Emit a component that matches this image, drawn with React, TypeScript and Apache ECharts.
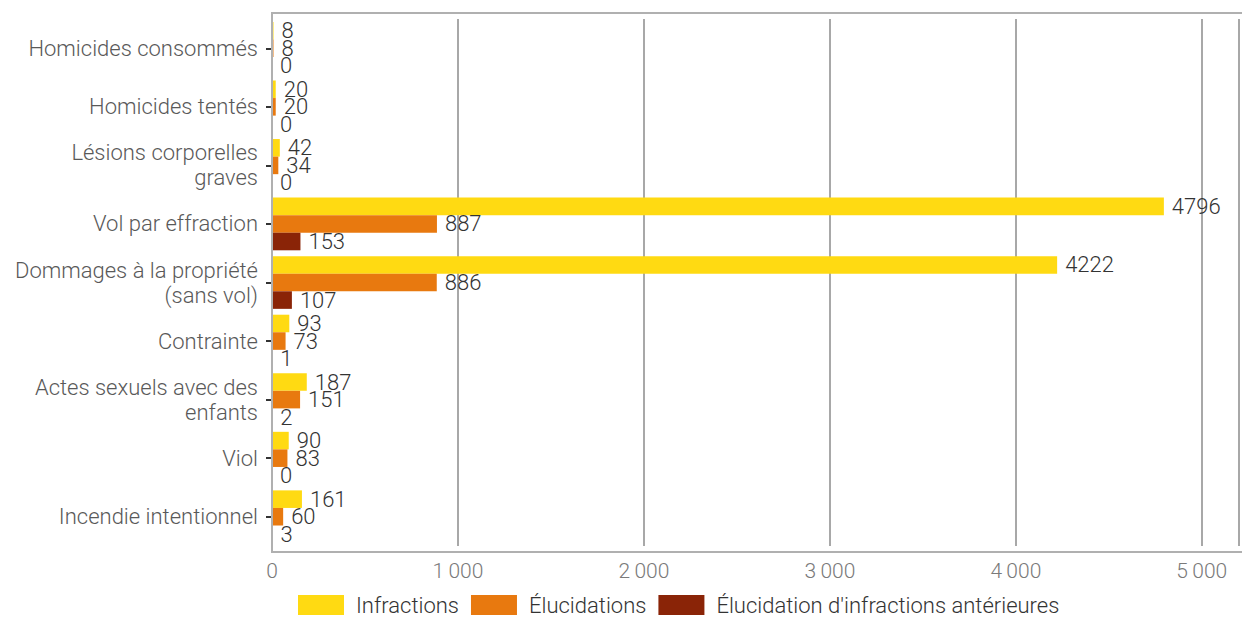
import React, { useEffect, useRef } from "react";
import * as echarts from "echarts";

const categories = [
  "Homicides consommés",
  "Homicides tentés",
  "Lésions corporelles\ngraves",
  "Vol par effraction",
  "Dommages à la propriété\n(sans vol)",
  "Contrainte",
  "Actes sexuels avec des\nenfants",
  "Viol",
  "Incendie intentionnel",
];
const infractions = [8, 20, 42, 4796, 4222, 93, 187, 90, 161];
const elucidations = [8, 20, 34, 887, 886, 73, 151, 83, 60];
const anterieures = [0, 0, 0, 153, 107, 1, 2, 0, 3];
const seriesNames = ["Infractions", "Élucidations", "Élucidation d'infractions antérieures"];
const colors = ["#FFDA12", "#E8790F", "#8A2407"];
const xTicks = [0, 1000, 2000, 3000, 4000, 5000];

export default function App() {
  const ref = useRef<HTMLDivElement>(null);
  useEffect(() => {
    if (!ref.current) return;
    const chart = echarts.init(ref.current, undefined, { renderer: "svg" });
    const font = "Roboto";
    const mk = (name: string, data: number[], color: string) => ({
      name,
      type: "bar",
      data,
      barGap: "0%",
      barCategoryGap: "10%",
      itemStyle: { color },
      label: {
        show: true,
        position: "right",
        distance: 8,
        color: "#333333",
        fontSize: 22,
        fontFamily: font,
        fontWeight: 300,
      },
    });
    chart.setOption({
      animation: false,
      grid: { left: 272, right: 0, top: 19, bottom: 71, containLabel: false },
      xAxis: {
        type: "value",
        min: 0,
        max: 5200,
        interval: 1000,
        axisLine: { show: false },
        axisTick: { show: false },
        splitLine: { show: true, lineStyle: { color: "#A8A8A8", width: 2 } },
        axisLabel: {
          margin: 14,
          color: "#7A7A7A",
          fontSize: 21,
          fontFamily: font,
          fontWeight: 300,
          formatter: (v: number) =>
            xTicks.indexOf(v) < 0 ? "" : v === 0 ? "0" : `${Math.floor(v / 1000)}\u2009000`,
        },
      },
      yAxis: {
        type: "category",
        data: categories,
        inverse: true,
        axisLine: { show: false },
        axisTick: { show: true, length: 6, lineStyle: { color: "#333", width: 2 }, alignWithLabel: true },
        axisLabel: {
          margin: 14,
          color: "#595959",
          fontSize: 22,
          lineHeight: 25,
          fontFamily: font,
          fontWeight: 300,
          align: "right",
        },
      },
      legend: {
        left: 298,
        top: 594,
        padding: 0,
        itemWidth: 46,
        itemHeight: 20,
        itemGap: 12,
        icon: "rect",
        textStyle: {
          color: "#333",
          fontSize: 22,
          lineHeight: 22,
          fontFamily: font,
          fontWeight: 300,
          padding: [0, 0, 0, 7],
        },
        data: seriesNames,
      },
      graphic: [
        {
          type: "rect",
          shape: { x: 272, y: 13, width: 1000, height: 539 },
          style: { fill: "none", stroke: "#B0B0B0", lineWidth: 2 },
          z: 100,
        },
      ],
      series: [
        mk(seriesNames[0], infractions, colors[0]),
        mk(seriesNames[1], elucidations, colors[1]),
        mk(seriesNames[2], anterieures, colors[2]),
      ],
    });
    return () => chart.dispose();
  }, []);
  return (
    <div
      ref={ref}
      style={{ position: "fixed", left: 0, top: 0, width: 1242, height: 617, background: "#fff" }}
    />
  );
}
